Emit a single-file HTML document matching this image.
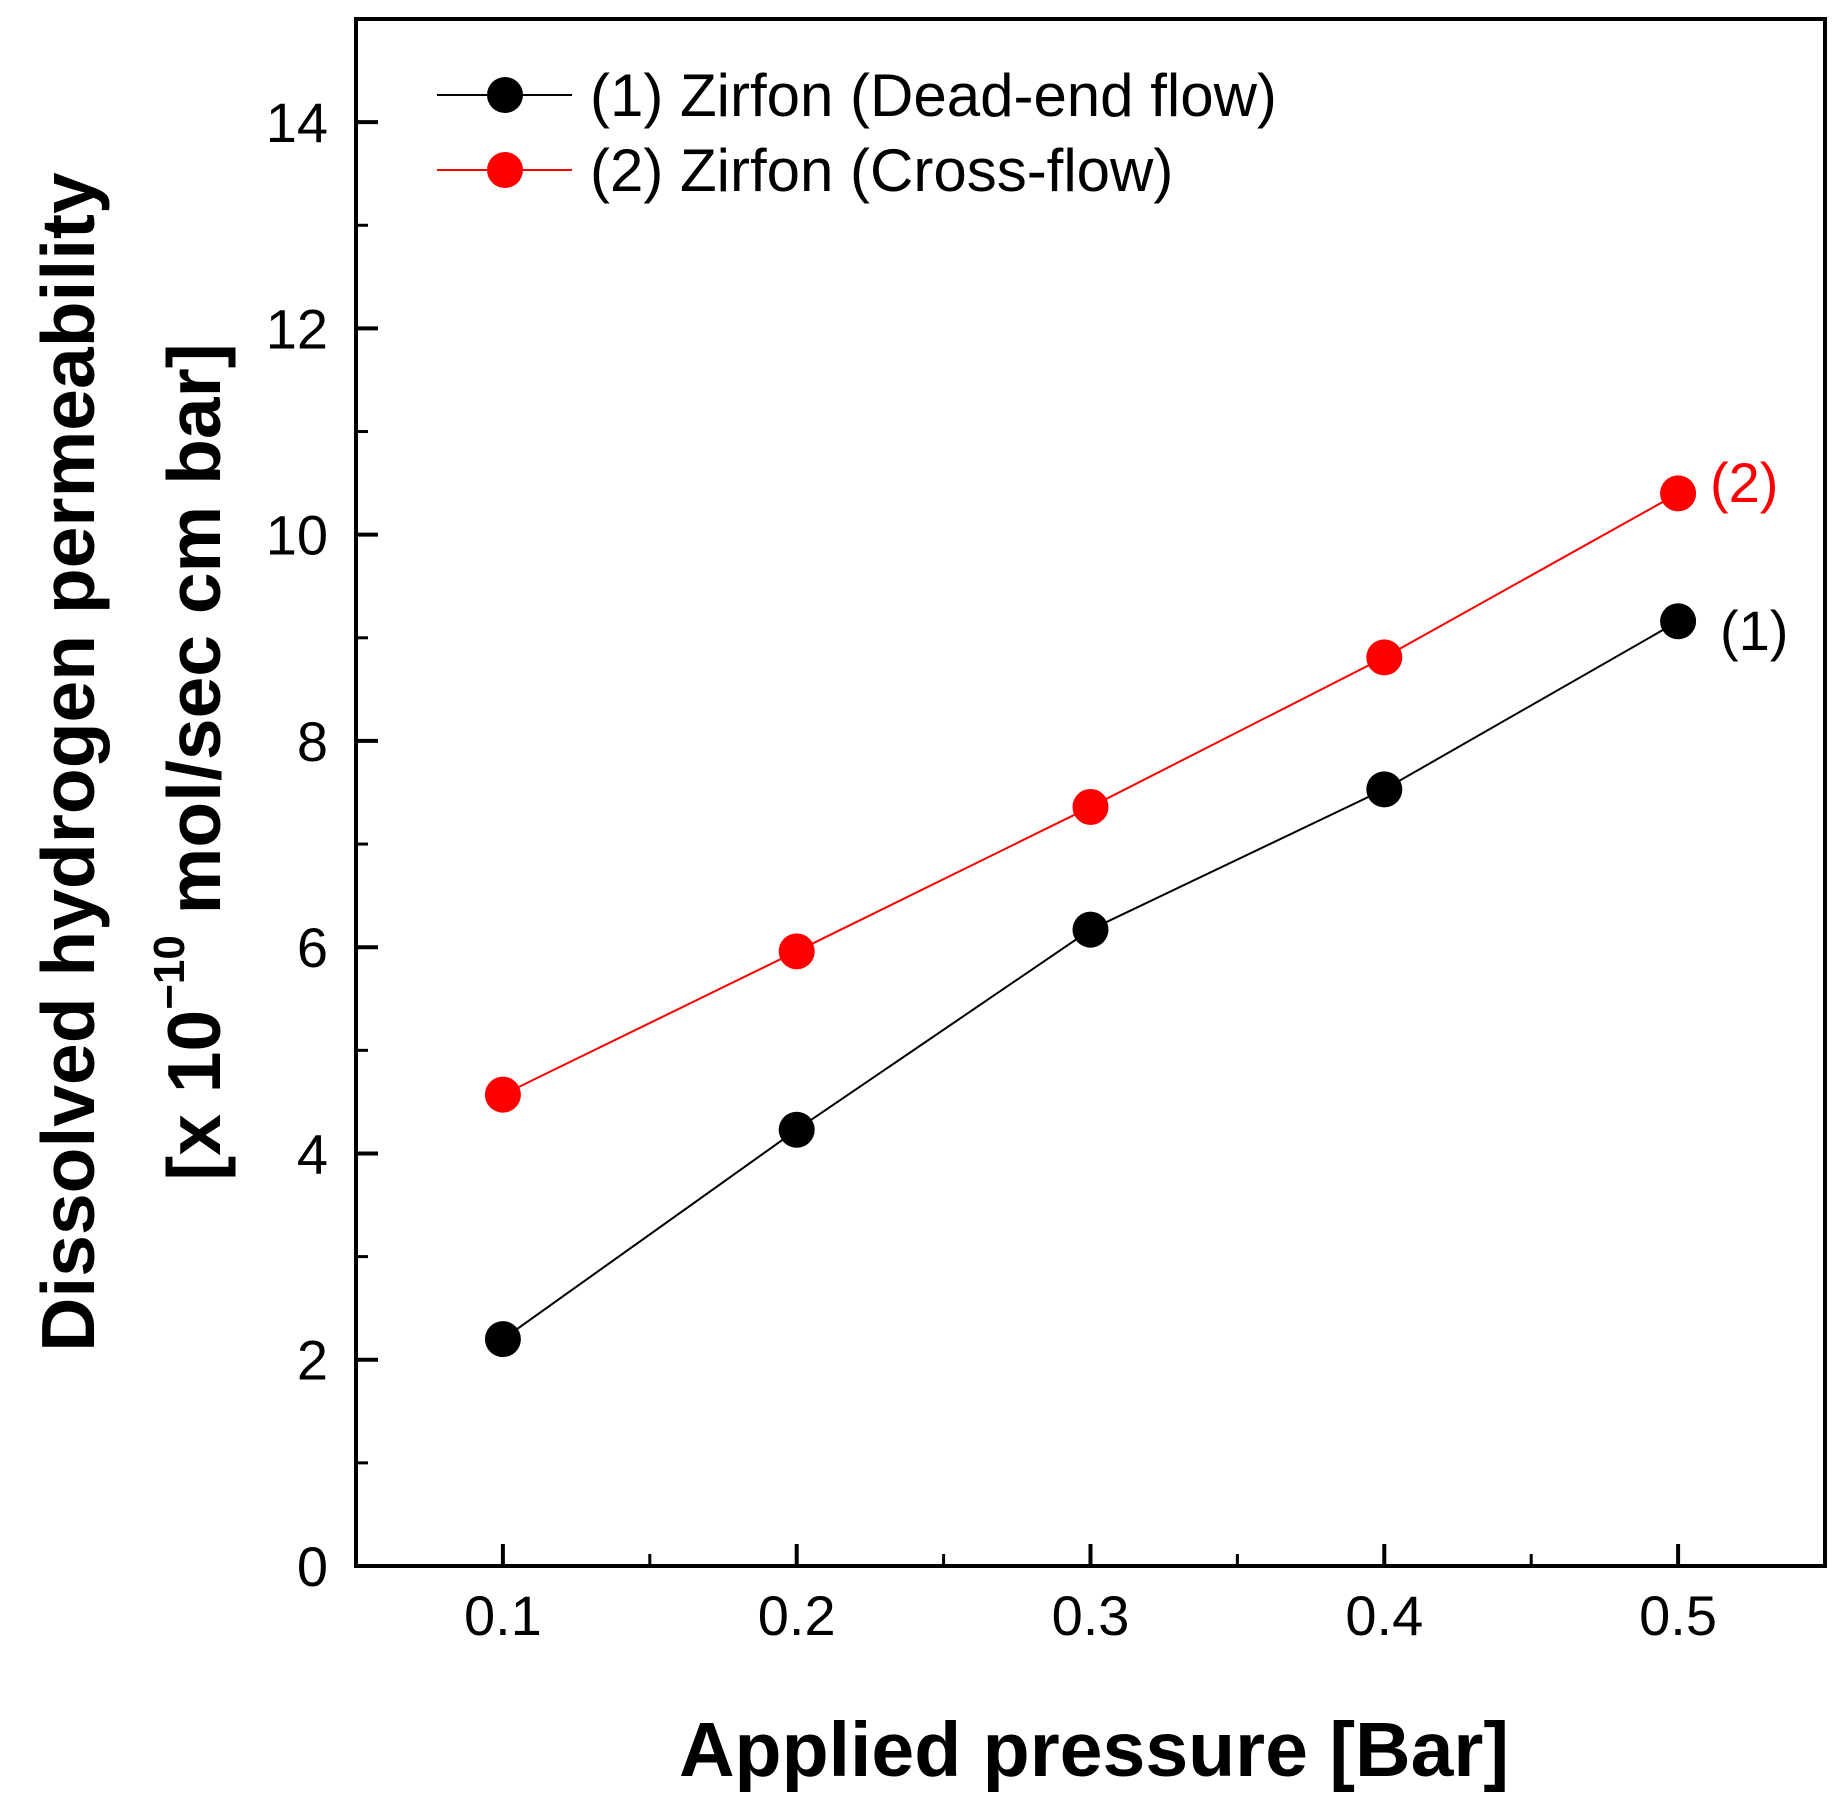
<!DOCTYPE html>
<html><head><meta charset="utf-8"><style>
html,body{margin:0;padding:0;background:#fff;}
svg{display:block;font-family:"Liberation Sans",Arial,sans-serif;}
</style></head><body>
<svg id="chart" width="1844" height="1815" viewBox="0 0 1844 1815" xmlns="http://www.w3.org/2000/svg">
<rect x="0" y="0" width="1844" height="1815" fill="#fff"/>
<g id="axes"></g>
<g id="series"></g>
<g id="legend">
  <line x1="437" y1="95" x2="572" y2="95" stroke="#000" stroke-width="2"/>
  <circle cx="505" cy="95" r="18" fill="#000"/>
  <text x="590" y="116" font-size="60" fill="#000">(1) Zirfon (Dead-end flow)</text>
  <line x1="437" y1="170" x2="572" y2="170" stroke="#f00" stroke-width="2"/>
  <circle cx="505" cy="170" r="18" fill="#f00"/>
  <text x="590" y="191" font-size="60" fill="#000">(2) Zirfon (Cross-flow)</text>
</g>
<text x="1710" y="502" font-size="56" fill="#f00">(2)</text>
<text x="1720" y="650" font-size="56" fill="#000">(1)</text>
<text x="1094" y="1776" font-size="77" font-weight="bold" text-anchor="middle">Applied pressure [Bar]</text>
<text transform="translate(94,762) rotate(-90)" font-size="75" font-weight="bold" text-anchor="middle">Dissolved hydrogen permeability</text>
<text transform="translate(220,762) rotate(-90)" font-size="75" font-weight="bold" text-anchor="middle">[x 10<tspan font-size="44" dy="-36">−10</tspan><tspan dy="36"> mol/sec cm bar]</tspan></text>
</svg>
<script>
const xValues = [0.1, 0.2, 0.3, 0.4, 0.5];
const deadEnd = [2.20, 4.23, 6.17, 7.53, 9.16];
const crossFlow = [4.57, 5.96, 7.36, 8.81, 10.40];
const xTickLabels = ["0.1", "0.2", "0.3", "0.4", "0.5"];
const yTickLabels = ["0", "2", "4", "6", "8", "10", "12", "14"];

const L = 356, R = 1825, T = 19, B = 1566;
const xMin = 0.05, xMax = 0.55, yMin = 0, yMax = 15;
function sx(v){ return L + (v - xMin) / (xMax - xMin) * (R - L); }
function sy(v){ return B - (v - yMin) / (yMax - yMin) * (B - T); }
const NS = "http://www.w3.org/2000/svg";
function mk(tag, attrs, parent){
  const e = document.createElementNS(NS, tag);
  for (const k in attrs) e.setAttribute(k, attrs[k]);
  parent.appendChild(e);
  return e;
}
const axes = document.getElementById('axes');
const frame = mk('rect', {x:L, y:T, width:R-L, height:B-T, fill:'none', stroke:'#000', 'stroke-width':4}, axes);



xTickLabels.forEach(function(lab){
  const v = parseFloat(lab);
  const t = mk('line', {x1:sx(v), y1:B, x2:sx(v), y2:B-22, stroke:'#000', 'stroke-width':4}, axes);
  
  
  const tx = mk('text', {x:sx(v), y:1635, 'font-size':56, 'text-anchor':'middle'}, axes);
  tx.textContent = lab;
  
  
});
for (let i = 0; i < 5; i++){
  const v = 0.15 + i * 0.1;
  if (v > xMax) break;
  const m = mk('line', {x1:sx(v), y1:B, x2:sx(v), y2:B-12, stroke:'#000', 'stroke-width':3}, axes);
  
  
}
yTickLabels.forEach(function(lab){
  const v = parseFloat(lab);
  const t = mk('line', {x1:L, y1:sy(v), x2:L+22, y2:sy(v), stroke:'#000', 'stroke-width':4}, axes);
  
  
  const tx = mk('text', {x:328, y:sy(v)+20, 'font-size':56, 'text-anchor':'end'}, axes);
  tx.textContent = lab;
  
  
  if (v + 1 < yMax){
    const m = mk('line', {x1:L, y1:sy(v+1), x2:L+12, y2:sy(v+1), stroke:'#000', 'stroke-width':3}, axes);
    
    
  }
});

const series = document.getElementById('series');
function drawSeries(vals, color, name){
  const pts = xValues.map(function(x, i){ return sx(x) + ',' + sy(vals[i]); }).join(' ');
  const pl = mk('polyline', {points:pts, fill:'none', stroke:color, 'stroke-width':2}, series);
  
  
  xValues.forEach(function(x, i){
    const c = mk('circle', {cx:sx(x), cy:sy(vals[i]), r:18, fill:color}, series);
    
    
  });
}
drawSeries(deadEnd, '#000', 'dead-end');
drawSeries(crossFlow, '#f00', 'cross-flow');
</script>
</body></html>
